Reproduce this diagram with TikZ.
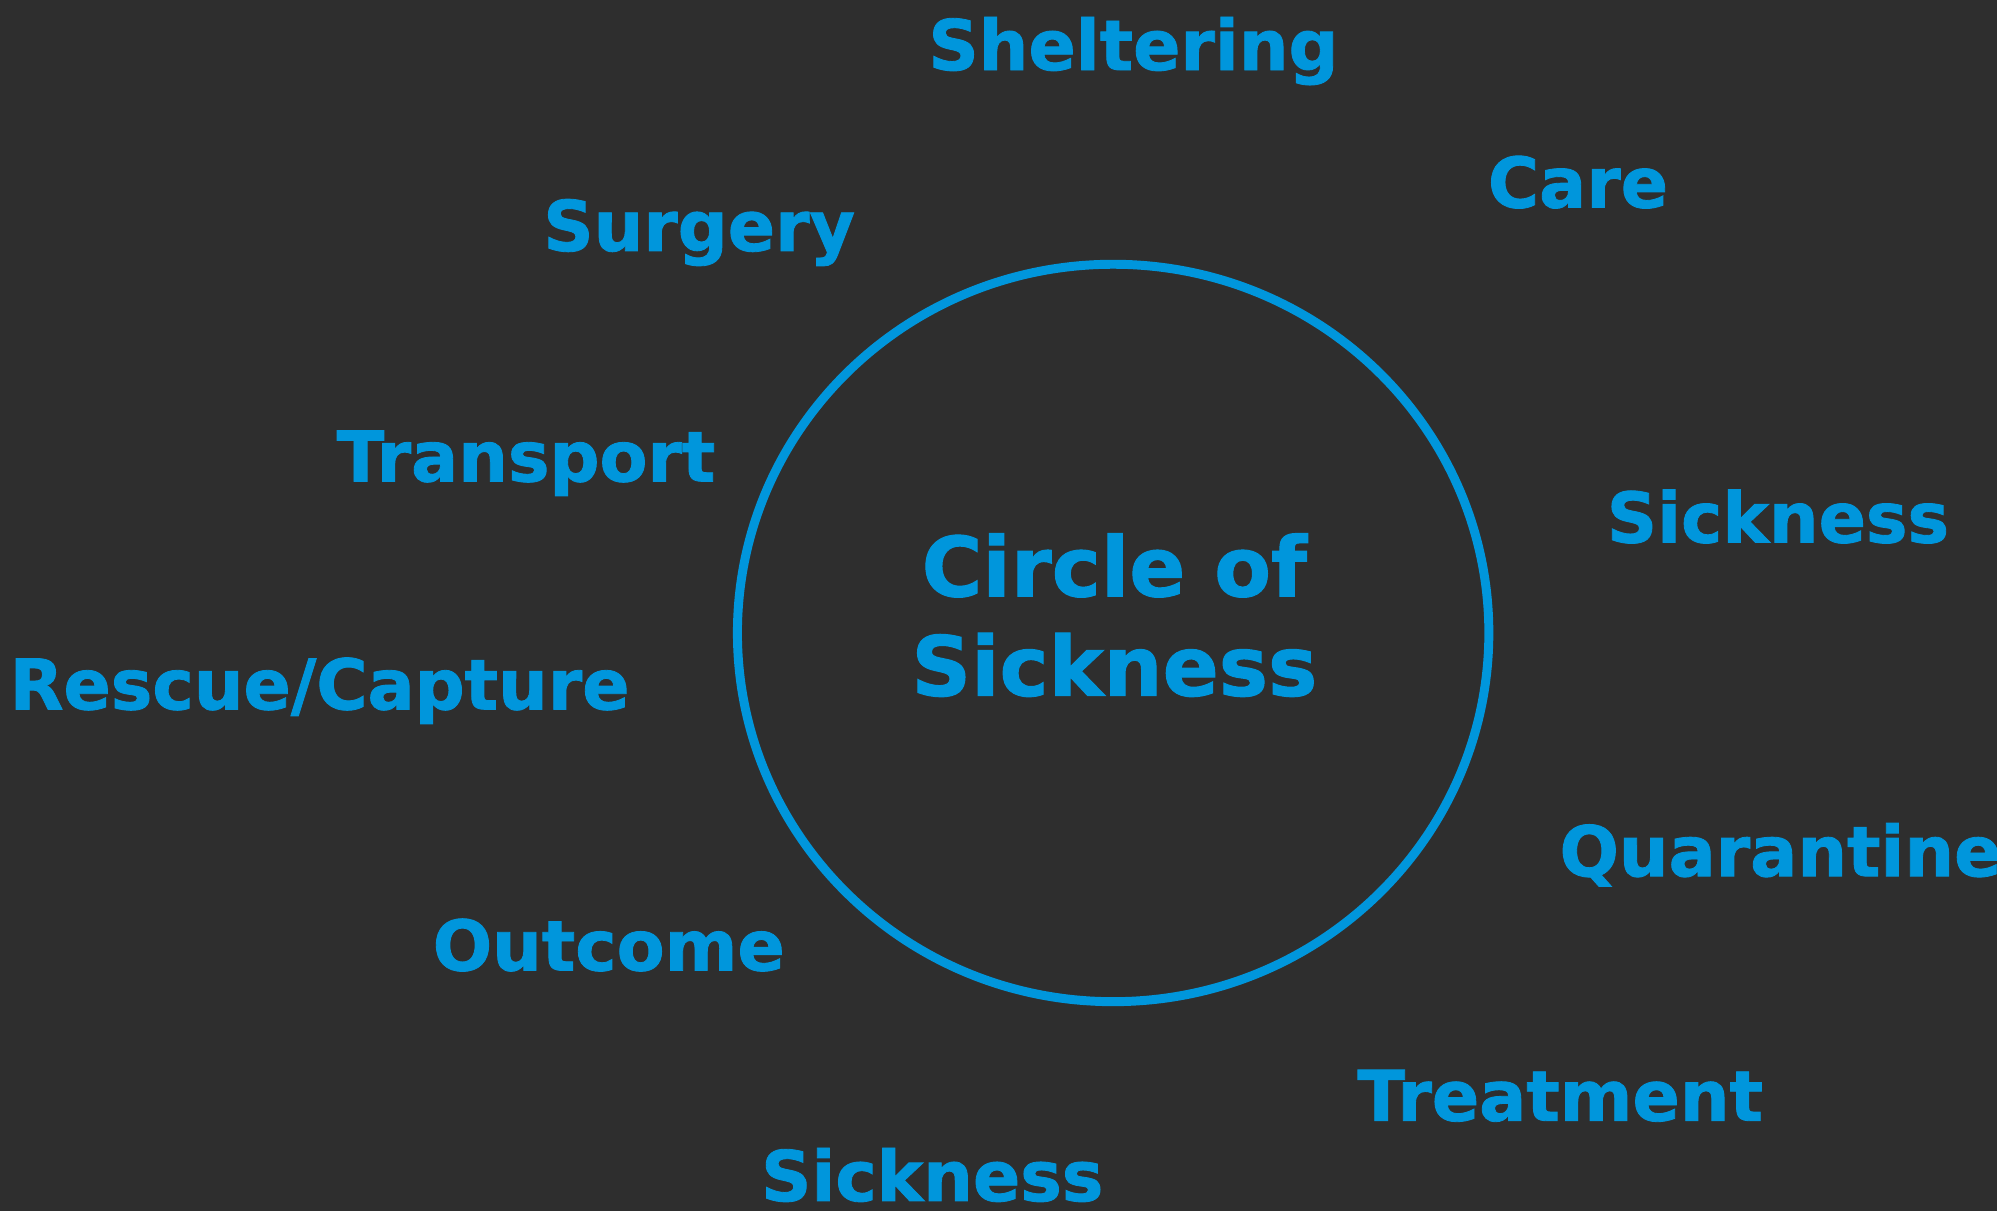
\documentclass[tikz,border=0pt]{standalone}
\usepackage{fontspec}
\setmainfont{DejaVu Sans}[BoldFeatures={FakeBold=1.2}]
\definecolor{bgdark}{HTML}{2E2E2E}
\definecolor{skyblue}{HTML}{0096DC}
\tikzset{
	stage/.style={text=skyblue, font=\bfseries\fontsize{15.6}{18}\selectfont, anchor=base, inner sep=0pt},
	title/.style={text=skyblue, font=\bfseries\fontsize{18.5}{22.2}\selectfont, align=center, inner sep=0pt}
}
\begin{document}
\begin{tikzpicture}
	\fill[bgdark] (0,0) rectangle (15.68,-9.51); %background
	\useasboundingbox (0,0) rectangle (15.68,-9.51);
	\draw[skyblue, line width=2pt] (8.74,-4.97) ellipse (2.95 and 2.895); %circle

	\node[title] at (8.75,-4.83) (hub) {Circle of\\Sickness};

	\node[stage] at (8.90,-0.55) (shelter) {Sheltering};
	\node[stage] at (12.39,-1.63) (care) {Care};
	\node[stage] at (5.49,-1.97) (surgery) {Surgery};
	\node[stage] at (4.13,-3.78) (transport) {Transport};
	\node[stage] at (13.96,-4.26) (sick1) {Sickness};
	\node[stage] at (2.51,-5.57) (rescue) {Rescue/Capture};
	\node[stage] at (13.98,-6.88) (quarantine) {Quarantine};
	\node[stage] at (4.78,-7.62) (outcome) {Outcome};
	\node[stage] at (12.25,-8.80) (treatment) {Treatment};
	\node[stage] at (7.32,-9.43) (sick2) {Sickness};
\end{tikzpicture}
\end{document}
